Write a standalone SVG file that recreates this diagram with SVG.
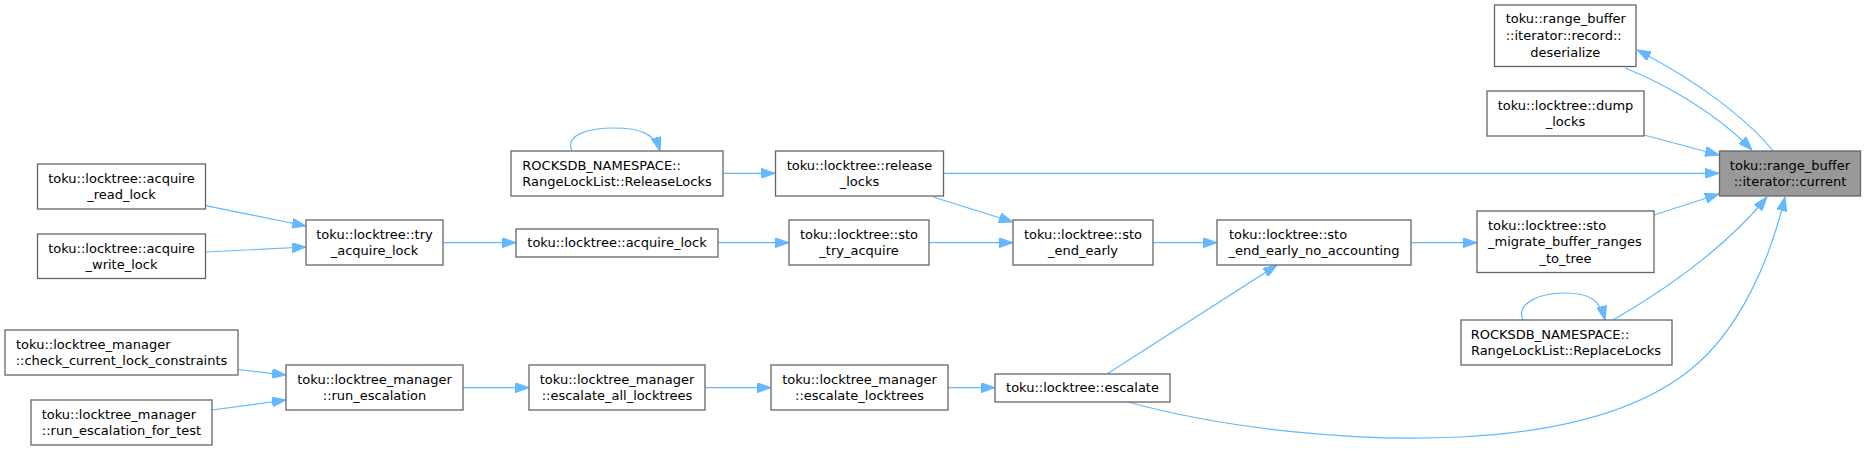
<svg xmlns="http://www.w3.org/2000/svg" width="1866" height="451" viewBox="0 0 1866 451">
<style>
.n rect{fill:#ffffff;stroke:#666666;stroke-width:1.3}
.n.cur rect{fill:#999999}
.n text{font-family:"DejaVu Sans",sans-serif;font-size:13px;fill:#000000}
.m{text-anchor:middle}
.s{text-anchor:start}
#edges path{fill:none;stroke:#63b8ff;stroke-width:1.2;marker-end:url(#ah)}
</style>
<defs>
<marker id="ah" markerUnits="userSpaceOnUse" markerWidth="14" markerHeight="10" viewBox="0 0 14 10" refX="14" refY="5" orient="auto">
<path d="M0,0 L14,5 L0,10 z" fill="#63b8ff" stroke="#63b8ff" stroke-width="1"/>
</marker>
</defs>
<rect width="1866" height="451" fill="#ffffff"/>
<g id="edges">
<path d="M1625,68 C1665,84 1715,112 1752,150"/>
<path d="M1773,151 C1750,122 1700,82 1637,50"/>
<path d="M1644,135 L1719,155"/>
<path d="M943,173.3 L1719,173.3"/>
<path d="M1654,215 L1719,194"/>
<path d="M1613,320 C1665,290 1725,248 1767,197"/>
<path d="M1128,402 C1230,430 1360,442 1460,437 C1560,432 1640,410 1690,370 C1740,330 1770,260 1785,197"/>
<path d="M1107,374 L1277,265"/>
<path d="M933,197 L1013,222"/>
<path d="M205.7,205.7 L306,226"/>
<path d="M205.7,252 L306,247"/>
<path d="M238,369.5 L286,375"/>
<path d="M212,410 L286,400"/>
<path d="M443,242.7 L516,242.7"/>
<path d="M718,242.7 L789,242.7"/>
<path d="M929,242.7 L1013,242.7"/>
<path d="M1153,242.7 L1217,242.7"/>
<path d="M1411,242.7 L1477,242.7"/>
<path d="M463,387.7 L529,387.7"/>
<path d="M705,387.7 L771,387.7"/>
<path d="M948,387.7 L995,387.7"/>
<path d="M723,173.3 L775,173.3"/>
<path d="M572,151 C565,136 585,128 615,128 C640,128 655,134 660,151"/>
<path d="M1523,320 C1516,305 1536,293 1565,293 C1590,293 1600,300 1605,320"/>
</g>
<g id="current" class="n cur">
<rect x="1719.5" y="151" width="141" height="45"/>
<text class="m" x="1790" y="169.5">toku::range_buffer</text>
<text class="m" x="1790" y="186">::iterator::current</text>
</g>
<g id="deserialize" class="n">
<rect x="1494.5" y="5" width="141.5" height="61.5"/>
<text class="s" x="1505.7" y="23">toku::range_buffer</text>
<text class="s" x="1505.7" y="39.5">::iterator::record::</text>
<text class="m" x="1565.25" y="56.5">deserialize</text>
</g>
<g id="dump_locks" class="n">
<rect x="1487" y="91" width="157" height="45"/>
<text class="m" x="1565.5" y="109.5">toku::locktree::dump</text>
<text class="m" x="1565.5" y="126">_locks</text>
</g>
<g id="release_locks" class="n">
<rect x="775.5" y="151" width="168" height="45"/>
<text class="m" x="859.5" y="169.5">toku::locktree::release</text>
<text class="m" x="859.5" y="186">_locks</text>
</g>
<g id="ReleaseLocks" class="n">
<rect x="511" y="151" width="212" height="45"/>
<text class="s" x="522.3" y="169.5">ROCKSDB_NAMESPACE::</text>
<text class="m" x="617" y="186">RangeLockList::ReleaseLocks</text>
</g>
<g id="acquire_read_lock" class="n">
<rect x="37.5" y="164" width="168" height="45"/>
<text class="m" x="121.5" y="182.5">toku::locktree::acquire</text>
<text class="m" x="121.5" y="199">_read_lock</text>
</g>
<g id="acquire_write_lock" class="n">
<rect x="37.5" y="234" width="168" height="44.5"/>
<text class="m" x="121.5" y="252.5">toku::locktree::acquire</text>
<text class="m" x="121.5" y="269">_write_lock</text>
</g>
<g id="try_acquire_lock" class="n">
<rect x="306" y="220" width="137" height="45"/>
<text class="m" x="374.5" y="238.5">toku::locktree::try</text>
<text class="m" x="374.5" y="255">_acquire_lock</text>
</g>
<g id="acquire_lock" class="n">
<rect x="516" y="229" width="202" height="28"/>
<text class="m" x="617" y="247">toku::locktree::acquire_lock</text>
</g>
<g id="sto_try_acquire" class="n">
<rect x="789" y="220" width="140" height="45"/>
<text class="m" x="859" y="238.5">toku::locktree::sto</text>
<text class="m" x="859" y="255">_try_acquire</text>
</g>
<g id="sto_end_early" class="n">
<rect x="1013" y="220" width="140" height="45"/>
<text class="m" x="1083" y="238.5">toku::locktree::sto</text>
<text class="m" x="1083" y="255">_end_early</text>
</g>
<g id="sto_end_early_no_accounting" class="n">
<rect x="1217" y="220" width="194" height="45"/>
<text class="s" x="1229" y="238.5">toku::locktree::sto</text>
<text class="m" x="1314" y="255">_end_early_no_accounting</text>
</g>
<g id="escalate" class="n">
<rect x="995" y="374" width="175" height="28"/>
<text class="m" x="1082.5" y="392">toku::locktree::escalate</text>
</g>
<g id="sto_migrate_buffer_ranges_to_tree" class="n">
<rect x="1477" y="211" width="177" height="61.5"/>
<text class="s" x="1488" y="229.5">toku::locktree::sto</text>
<text class="s" x="1488" y="246">_migrate_buffer_ranges</text>
<text class="m" x="1565.5" y="262.5">_to_tree</text>
</g>
<g id="ReplaceLocks" class="n">
<rect x="1461" y="320" width="211" height="45"/>
<text class="s" x="1470.7" y="338.5">ROCKSDB_NAMESPACE::</text>
<text class="m" x="1566" y="355">RangeLockList::ReplaceLocks</text>
</g>
<g id="check_current_lock_constraints" class="n">
<rect x="5" y="330" width="233" height="45"/>
<text class="s" x="16" y="348.5">toku::locktree_manager</text>
<text class="m" x="121.5" y="365">::check_current_lock_constraints</text>
</g>
<g id="run_escalation_for_test" class="n">
<rect x="31" y="400" width="181" height="45"/>
<text class="s" x="41.7" y="418.5">toku::locktree_manager</text>
<text class="m" x="121.5" y="435">::run_escalation_for_test</text>
</g>
<g id="run_escalation" class="n">
<rect x="286" y="365" width="177" height="45"/>
<text class="m" x="374.5" y="383.5">toku::locktree_manager</text>
<text class="m" x="374.5" y="400">::run_escalation</text>
</g>
<g id="escalate_all_locktrees" class="n">
<rect x="529" y="365" width="176" height="45"/>
<text class="m" x="617" y="383.5">toku::locktree_manager</text>
<text class="m" x="617" y="400">::escalate_all_locktrees</text>
</g>
<g id="escalate_locktrees" class="n">
<rect x="771" y="365" width="177" height="45"/>
<text class="m" x="859.5" y="383.5">toku::locktree_manager</text>
<text class="m" x="859.5" y="400">::escalate_locktrees</text>
</g>
</svg>
